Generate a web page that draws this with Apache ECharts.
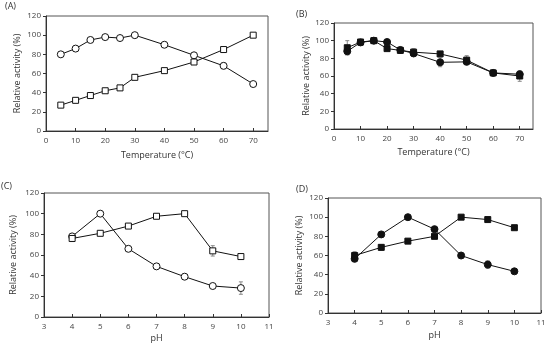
<!DOCTYPE html>
<html><head><meta charset="utf-8">
<script src="https://cdn.jsdelivr.net/npm/echarts@6/dist/echarts.min.js"></script>
<style>html,body{margin:0;padding:0;background:#fff}#c{width:550px;height:351px}</style>
</head><body><div id="c"></div>
<script>
const tempX = [5,10,15,20,25,30,40,50,60,70];
const aCircle = [80,86,95,98,97,100,90,79,68,49];
const aSquare = [27,32,37,42,45,56,63,72,85,100];
const aCircleErr = [0,2,0,1,0,0,0,1,3,0];
const aSquareErr = [1,0,0,0,2,0,0,0,0,0];
const bCircle = [88,98,100,98.5,89.5,85.5,75.5,76,63.5,62];
const bSquare = [92,98.5,100,91,89,87,85,78,63.5,60];
const bCircleErr = [4,1,0,0,2,2,5,2,1,3];
const bSquareErr = [8,1,0,0,0,4,2,5,0,6];
const phX = [4,5,6,7,8,9,10];
const cCircle = [78,100,66,49,39,30,28];
const cSquare = [76,81,88,97.5,100,64,58.5];
const cCircleErr = [2,0,0,2,0,0,6];
const cSquareErr = [3,0,0,0,0,5,1];
const dCircle = [56.5,82,100,87.5,60,50.5,43.5];
const dSquare = [60,68.5,75,80,100,97.5,89];
const dCircleErr = [2,0,0,0,0,4,0];
const dSquareErr = [4,3,0,2,0,0,0];
const tempTicks = [0,10,20,30,40,50,60,70];
const phTicks = [3,4,5,6,7,8,9,10,11];
const yTicks = [0,20,40,60,80,100,120];

const FONT = 'Open Sans';
const grids = [
  {left:46, top:16, width:222, height:115},
  {left:334, top:23, width:199, height:106},
  {left:44, top:193, width:225, height:124},
  {left:328, top:198, width:213, height:115}
].map(g => Object.assign(g, {show:true, borderColor:'#555', borderWidth:1, backgroundColor:'transparent'}));

function xAx(i, isTemp, gap){
  const tv = isTemp?tempTicks:phTicks;
  return {
    type:'value', gridIndex:i,
    min: isTemp?0:3, max: isTemp?75:11, interval: isTemp?10:1,
    name: isTemp?'Temperature (°C)':'pH', nameLocation:'middle', nameGap:gap,
    nameTextStyle:{fontFamily:FONT, fontSize:9, color:'#333'},
    axisLine:{show:true, lineStyle:{color:'#333', width:1}},
    axisTick:{show:true, inside:true, length:3, lineStyle:{color:'#333'}, customValues:tv},
    axisLabel:{fontFamily:FONT, fontSize:8, color:'#444', margin:6, customValues:tv},
    splitLine:{show:false}
  };
}
function yAx(i, gap){
  return {
    type:'value', gridIndex:i, min:0, max:120, interval:20,
    name:'Relative activity (%)', nameLocation:'middle', nameGap:gap,
    nameTextStyle:{fontFamily:FONT, fontSize:9, color:'#333'},
    axisLine:{show:true, lineStyle:{color:'#333', width:1}},
    axisTick:{show:true, inside:false, length:3, lineStyle:{color:'#333'}, customValues:yTicks},
    axisLabel:{fontFamily:FONT, fontSize:8, color:'#444', margin:5, customValues:yTicks},
    splitLine:{show:false}
  };
}
function pairs(xs, ys){ return xs.map((x,k)=>[x, ys[k]]); }
function lineSeries(i, xs, ys, symbol, filled, size){
  return {
    type:'line', xAxisIndex:i, yAxisIndex:i, data:pairs(xs,ys),
    symbol:symbol, symbolSize:size, showAllSymbol:true,
    lineStyle:{color:'#111', width:1},
    itemStyle:{color: filled?'#111':'#fff', borderColor:'#111', borderWidth:1},
    emphasis:{disabled:true}, z:3, animation:false
  };
}
function errSeries(i, xs, ys, es){
  const d = xs.map((x,k)=>[x, ys[k]-es[k], ys[k]+es[k]]).filter((v,k)=>es[k]>0);
  return {
    type:'custom', xAxisIndex:i, yAxisIndex:i, data:d, z:2, animation:false,
    renderItem:function(params, api){
      const lo = api.coord([api.value(0), api.value(1)]);
      const hi = api.coord([api.value(0), api.value(2)]);
      const w = 2;
      const st = {stroke:'#888', lineWidth:1};
      return {type:'group', children:[
        {type:'line', shape:{x1:lo[0],y1:lo[1],x2:hi[0],y2:hi[1]}, style:st},
        {type:'line', shape:{x1:lo[0]-w,y1:lo[1],x2:lo[0]+w,y2:lo[1]}, style:st},
        {type:'line', shape:{x1:hi[0]-w,y1:hi[1],x2:hi[0]+w,y2:hi[1]}, style:st}
      ]};
    }
  };
}

const option = {
  animation:false,
  grid: grids,
  xAxis:[xAx(0,true,20), xAx(1,true,19), xAx(2,false,17), xAx(3,false,18)],
  yAxis:[yAx(0,24), yAx(1,23), yAx(2,26), yAx(3,24)],
  graphic:[
    {type:'text', left:5, top:2, style:{text:'(A)', fontFamily:FONT, fontSize:9, fill:'#333'}},
    {type:'text', left:296, top:10, style:{text:'(B)', fontFamily:FONT, fontSize:9, fill:'#333'}},
    {type:'text', left:1, top:182, style:{text:'(C)', fontFamily:FONT, fontSize:9, fill:'#333'}},
    {type:'text', left:296, top:185, style:{text:'(D)', fontFamily:FONT, fontSize:9, fill:'#333'}}
  ],
  series:[
    errSeries(0,tempX,aCircle,aCircleErr), errSeries(0,tempX,aSquare,aSquareErr),
    lineSeries(0,tempX,aCircle,'circle',false,7), lineSeries(0,tempX,aSquare,'rect',false,6),
    errSeries(1,tempX,bCircle,bCircleErr), errSeries(1,tempX,bSquare,bSquareErr),
    lineSeries(1,tempX,bCircle,'circle',true,7), lineSeries(1,tempX,bSquare,'rect',true,6),
    errSeries(2,phX,cCircle,cCircleErr), errSeries(2,phX,cSquare,cSquareErr),
    lineSeries(2,phX,cCircle,'circle',false,7), lineSeries(2,phX,cSquare,'rect',false,6),
    errSeries(3,phX,dCircle,dCircleErr), errSeries(3,phX,dSquare,dSquareErr),
    lineSeries(3,phX,dCircle,'circle',true,7), lineSeries(3,phX,dSquare,'rect',true,6)
  ]
};
const chart = echarts.init(document.getElementById('c'), null, {renderer:'canvas'});
chart.setOption(option);
</script>
</body></html>
